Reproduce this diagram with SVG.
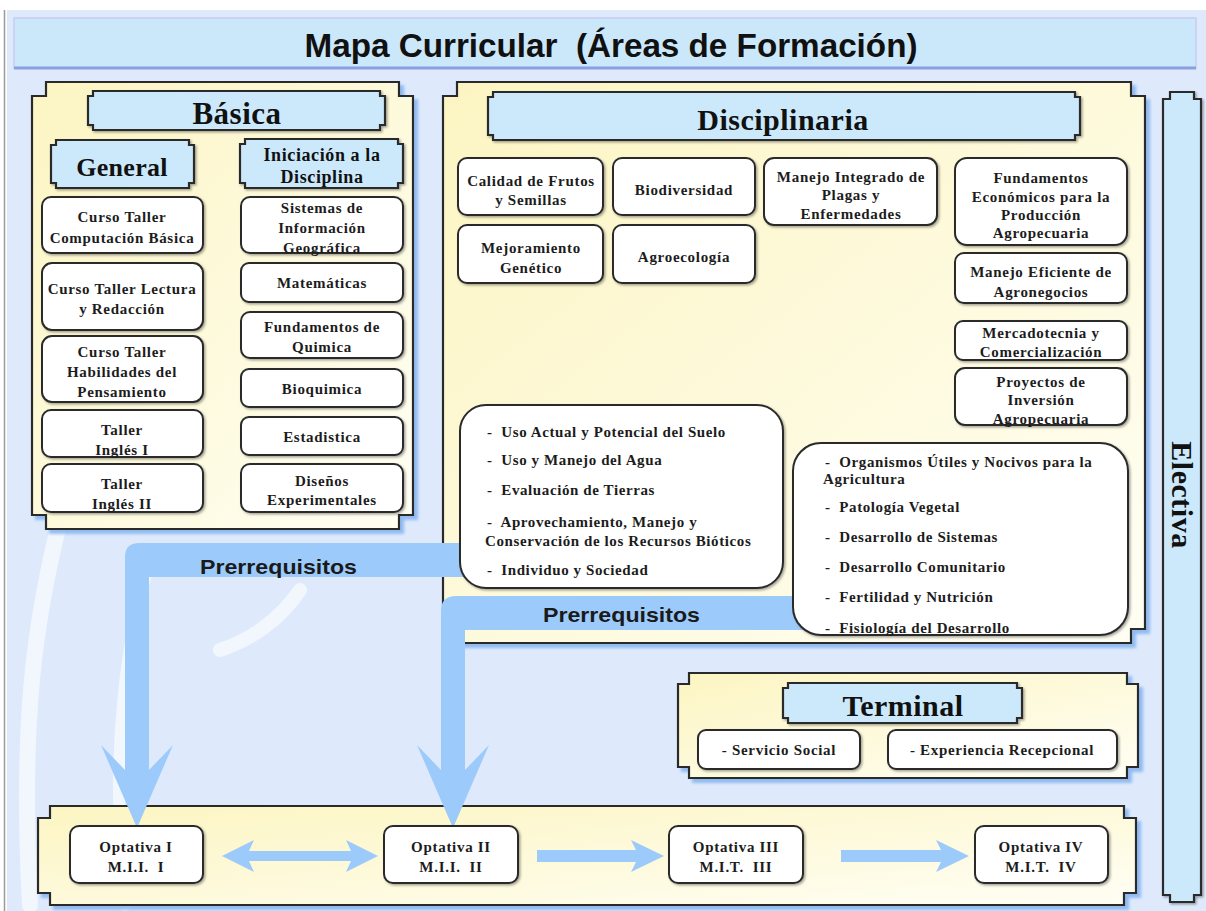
<svg xmlns="http://www.w3.org/2000/svg" width="1206" height="911" viewBox="0 0 1206 911">
<defs>
<linearGradient id="gY" x1="0" y1="0" x2="1" y2="1">
<stop offset="0" stop-color="#fcf5c2"/>
<stop offset="1" stop-color="#fffef4"/>
</linearGradient>
<filter id="sh" x="-5%" y="-5%" width="115%" height="115%">
<feDropShadow dx="4" dy="4" stdDeviation="1.5" flood-color="#84b2ee" flood-opacity="0.85"/>
</filter>
<filter id="sh2" x="-5%" y="-5%" width="115%" height="120%">
<feDropShadow dx="1.5" dy="1.5" stdDeviation="0.8" flood-color="#000" flood-opacity="0.35"/>
</filter>
<style>
.panel{fill:url(#gY);stroke:#2a2a2a;stroke-width:2.2;filter:url(#sh)}
.hdr{fill:#cce9fc;stroke:#2a2a2a;stroke-width:2.2;filter:url(#sh2)}
.box{fill:#fff;stroke:#2a2a2a;stroke-width:2;filter:url(#sh2)}
.t{font-family:"Liberation Serif",serif;font-weight:bold;font-size:15px;letter-spacing:0.7px;fill:#1c1c1c;text-anchor:middle}
.tl{font-family:"Liberation Serif",serif;font-weight:bold;font-size:15px;letter-spacing:0.6px;fill:#1c1c1c;white-space:pre}
.h{font-family:"Liberation Serif",serif;font-weight:bold;fill:#111;text-anchor:middle}
.band{fill:#9ccbfb}
.pr{font-family:"Liberation Sans",sans-serif;font-weight:bold;font-size:21px;fill:#1a1a1a}
.pre{white-space:pre}
</style>
</defs>

<!-- background -->
<rect x="0" y="0" width="1206" height="911" fill="#ffffff"/>
<rect x="7" y="10" width="1199" height="901" fill="#deeafc"/>
<line x1="4.5" y1="10" x2="4.5" y2="911" stroke="#9a9a9a" stroke-width="1.5"/>
<g fill="none" stroke="#ffffff" stroke-opacity="0.6" stroke-linecap="round">
<path d="M60,520 C35,620 20,720 30,905" stroke-width="16"/>
<path d="M150,560 C120,660 112,780 125,905" stroke-width="12"/>
<path d="M300,590 C280,620 250,640 220,650" stroke-width="14"/>
</g>

<!-- title -->
<g id="title">
<rect x="14" y="18" width="1182" height="50" fill="#cbe8fb" stroke="#c6ccf2" stroke-width="1.5"/>
<line x1="14" y1="68" x2="1196" y2="68" stroke="#8c9fe0" stroke-width="3"/>
<text x="611" y="57" font-family="Liberation Sans, sans-serif" font-weight="bold" font-size="34" fill="#111" text-anchor="middle" textLength="613" lengthAdjust="spacingAndGlyphs" class="pre">Mapa Curricular  (Áreas de Formación)</text>
</g>

<!-- Básica -->
<g id="basica">
<path class="panel" d="M46,82 H399 V96 H413 V515 H399 V529 H46 V515 H32 V96 H46 Z"/>
<path class="hdr" d="M93,91 H380 V96 H385 V125 H380 V130 H93 V125 H88 V96 H93 Z"/>
<text class="h" x="237" y="124" font-size="31" letter-spacing="0.5">Básica</text>
</g>
<g id="general">
<path class="hdr" d="M56,140 H189 V145 H194 V183 H189 V188 H56 V183 H51 V145 H56 Z"/>
<text class="h" x="122" y="176" font-size="26" letter-spacing="0.3">General</text>
</g>
<g id="iniciacion">
<path class="hdr" d="M245,139 H398 V144 H403 V183 H398 V188 H245 V183 H240 V144 H245 Z"/>
<text class="h" x="322" y="161" font-size="18" letter-spacing="0.6">Iniciación a la</text>
<text class="h" x="322" y="183" font-size="18" letter-spacing="0.6">Disciplina</text>
</g>
<g id="b-computacion"><rect class="box" x="42" y="197" width="161" height="56" rx="9"/>
<text class="t" x="122" y="222">Curso Taller</text><text class="t" x="122" y="243">Computación Básica</text></g>
<g id="b-lectura"><rect class="box" x="42" y="263" width="161" height="67" rx="10"/>
<text class="t" x="122" y="294">Curso Taller Lectura</text><text class="t" x="122" y="314">y Redacción</text></g>
<g id="b-habilidades"><rect class="box" x="42" y="336" width="161" height="66" rx="10"/>
<text class="t" x="122" y="357">Curso Taller</text><text class="t" x="122" y="377">Habilidades del</text><text class="t" x="122" y="397">Pensamiento</text></g>
<g id="b-ingles1"><rect class="box" x="42" y="410" width="161" height="47" rx="9"/>
<text class="t" x="122" y="435">Taller</text><text class="t" x="122" y="455">Inglés I</text></g>
<g id="b-ingles2"><rect class="box" x="42" y="464" width="161" height="48" rx="9"/>
<text class="t" x="122" y="489">Taller</text><text class="t" x="122" y="509">Inglés II</text></g>
<g id="b-sig"><rect class="box" x="241" y="197" width="162" height="56" rx="9"/>
<text class="t" x="322" y="213">Sistemas de</text><text class="t" x="322" y="233">Información</text><text class="t" x="322" y="253">Geográfica</text></g>
<g id="b-matematicas"><rect class="box" x="241" y="263" width="162" height="39" rx="8"/>
<text class="t" x="322" y="288">Matemáticas</text></g>
<g id="b-quimica"><rect class="box" x="241" y="312" width="162" height="46" rx="9"/>
<text class="t" x="322" y="332">Fundamentos de</text><text class="t" x="322" y="352">Quimica</text></g>
<g id="b-bioquimica"><rect class="box" x="241" y="369" width="162" height="38" rx="8"/>
<text class="t" x="322" y="394">Bioquimica</text></g>
<g id="b-estadistica"><rect class="box" x="241" y="417" width="162" height="38" rx="8"/>
<text class="t" x="322" y="442">Estadistica</text></g>
<g id="b-disenos"><rect class="box" x="241" y="464" width="162" height="48" rx="9"/>
<text class="t" x="322" y="486">Diseños</text><text class="t" x="322" y="505">Experimentales</text></g>

<!-- Disciplinaria -->
<g id="disciplinaria">
<path class="panel" d="M457,82 H1131 V96 H1145 V629 H1131 V643 H457 V629 H443 V96 H457 Z"/>
<path class="hdr" d="M493,92 H1075 V97 H1080 V135 H1075 V140 H493 V135 H488 V97 H493 Z"/>
<text class="h" x="783" y="130" font-size="30" letter-spacing="0.5">Disciplinaria</text>
</g>
<g id="d-calidad"><rect class="box" x="458" y="158" width="145" height="57" rx="9"/>
<text class="t" x="531" y="186">Calidad de Frutos</text><text class="t" x="531" y="205">y Semillas</text></g>
<g id="d-biodiversidad"><rect class="box" x="613" y="158" width="142" height="57" rx="9"/>
<text class="t" x="684" y="195">Biodiversidad</text></g>
<g id="d-plagas"><rect class="box" x="764" y="158" width="173" height="67" rx="10"/>
<text class="t" x="851" y="182">Manejo Integrado de</text><text class="t" x="851" y="200">Plagas y</text><text class="t" x="851" y="219">Enfermedades</text></g>
<g id="d-mejoramiento"><rect class="box" x="458" y="225" width="145" height="58" rx="9"/>
<text class="t" x="531" y="253">Mejoramiento</text><text class="t" x="531" y="273">Genético</text></g>
<g id="d-agroecologia"><rect class="box" x="613" y="225" width="142" height="58" rx="9"/>
<text class="t" x="684" y="262">Agroecología</text></g>
<g id="d-fundamentos"><rect class="box" x="955" y="158" width="172" height="87" rx="12"/>
<text class="t" x="1041" y="183">Fundamentos</text><text class="t" x="1041" y="202">Económicos para la</text><text class="t" x="1041" y="220">Producción</text><text class="t" x="1041" y="238">Agropecuaria</text></g>
<g id="d-agronegocios"><rect class="box" x="955" y="253" width="172" height="50" rx="9"/>
<text class="t" x="1041" y="277">Manejo Eficiente de</text><text class="t" x="1041" y="297">Agronegocios</text></g>
<g id="d-mercadotecnia"><rect class="box" x="955" y="321" width="172" height="39" rx="8"/>
<text class="t" x="1041" y="338">Mercadotecnia y</text><text class="t" x="1041" y="357">Comercialización</text></g>
<g id="d-proyectos"><rect class="box" x="955" y="368" width="172" height="57" rx="10"/>
<text class="t" x="1041" y="387">Proyectos de</text><text class="t" x="1041" y="405">Inversión</text><text class="t" x="1041" y="424">Agropecuaria</text></g>

<!-- Terminal -->
<g id="terminal">
<path class="panel" d="M689,673 H1127 V684 H1138 V767 H1127 V778 H689 V767 H678 V684 H689 Z"/>
<path class="hdr" d="M788,683 H1017 V688 H1022 V718 H1017 V723 H788 V718 H783 V688 H788 Z"/>
<text class="h" x="903" y="716" font-size="30" letter-spacing="0.5">Terminal</text>
</g>
<g id="t-servicio"><rect class="box" x="698" y="730" width="162" height="39" rx="8"/>
<text class="t" x="779" y="755">- Servicio Social</text></g>
<g id="t-experiencia"><rect class="box" x="888" y="730" width="229" height="39" rx="8"/>
<text class="t" x="1002" y="755">- Experiencia Recepcional</text></g>

<!-- Electiva -->
<g id="electiva">
<path class="hdr" d="M1170,92 H1194 V99 H1201 V895 H1194 V902 H1170 V895 H1163 V99 H1170 Z"/>
<text class="h" font-size="30" letter-spacing="0.5" transform="translate(1172,495) rotate(90)">Electiva</text>
</g>

<!-- Optativas panel -->
<g id="optativas">
<path class="panel" d="M50,806 H1124 V818 H1136 V893 H1124 V905 H50 V893 H38 V818 H50 Z"/>
</g>

<!-- connectors -->
<g id="connectors">
<path class="band" d="M470,543 H139 Q125,543 125,557 V770 L101,745 L137,828 L173,745 L149,770 V577 H470 Z"/>
<text class="pr" x="200" y="574" textLength="157" lengthAdjust="spacingAndGlyphs">Prerrequisitos</text>
<path class="band" d="M805,596 H456 Q441,596 441,611 V770 L417,745 L453,828 L489,745 L465,770 V630 H805 Z"/>
<text class="pr" x="543" y="622" textLength="157" lengthAdjust="spacingAndGlyphs">Prerrequisitos</text>
<path class="band" d="M222,856 L254,840 L249,851 H351 L346,840 L378,856 L346,872 L351,861 H249 L254,872 Z"/>
<path class="band" d="M537,850 H636 L631,840 L664,856 L631,872 L636,862 H537 Z"/>
<path class="band" d="M841,850 H941 L936,840 L969,856 L936,872 L941,862 H841 Z"/>
</g>

<!-- lists -->
<g id="list-suelo">
<rect class="box" x="460" y="405" width="323" height="183" rx="26"/>
<text class="tl" x="487" y="437">-  Uso Actual y Potencial del Suelo</text>
<text class="tl" x="487" y="465">-  Uso y Manejo del Agua</text>
<text class="tl" x="487" y="495">-  Evaluación de Tierras</text>
<text class="tl" x="487" y="527">-  Aprovechamiento, Manejo y</text>
<text class="tl" x="485" y="546">Conservación de los Recursos Bióticos</text>
<text class="tl" x="487" y="575">-  Individuo y Sociedad</text>
</g>
<g id="list-organismos">
<rect class="box" x="793" y="443" width="335" height="192" rx="28"/>
<text class="tl" x="825" y="467">-  Organismos Útiles y Nocivos para la</text>
<text class="tl" x="823" y="484">Agricultura</text>
<text class="tl" x="825" y="512">-  Patología Vegetal</text>
<text class="tl" x="825" y="542">-  Desarrollo de Sistemas</text>
<text class="tl" x="825" y="572">-  Desarrollo Comunitario</text>
<text class="tl" x="825" y="602">-  Fertilidad y Nutrición</text>
<text class="tl" x="825" y="633">-  Fisiología del Desarrollo</text>
</g>

<!-- optativa boxes -->
<g id="opt1"><rect class="box" x="70" y="826" width="133" height="57" rx="9"/>
<text class="t" x="136" y="852">Optativa I</text><text class="t pre" x="136" y="872">M.I.I.  I</text></g>
<g id="opt2"><rect class="box" x="384" y="826" width="134" height="57" rx="9"/>
<text class="t" x="451" y="852">Optativa II</text><text class="t pre" x="451" y="872">M.I.I.  II</text></g>
<g id="opt3"><rect class="box" x="669" y="826" width="134" height="57" rx="9"/>
<text class="t" x="736" y="852">Optativa III</text><text class="t pre" x="736" y="872">M.I.T.  III</text></g>
<g id="opt4"><rect class="box" x="975" y="826" width="133" height="57" rx="9"/>
<text class="t" x="1041" y="852">Optativa IV</text><text class="t pre" x="1041" y="872">M.I.T.  IV</text></g>
</svg>
